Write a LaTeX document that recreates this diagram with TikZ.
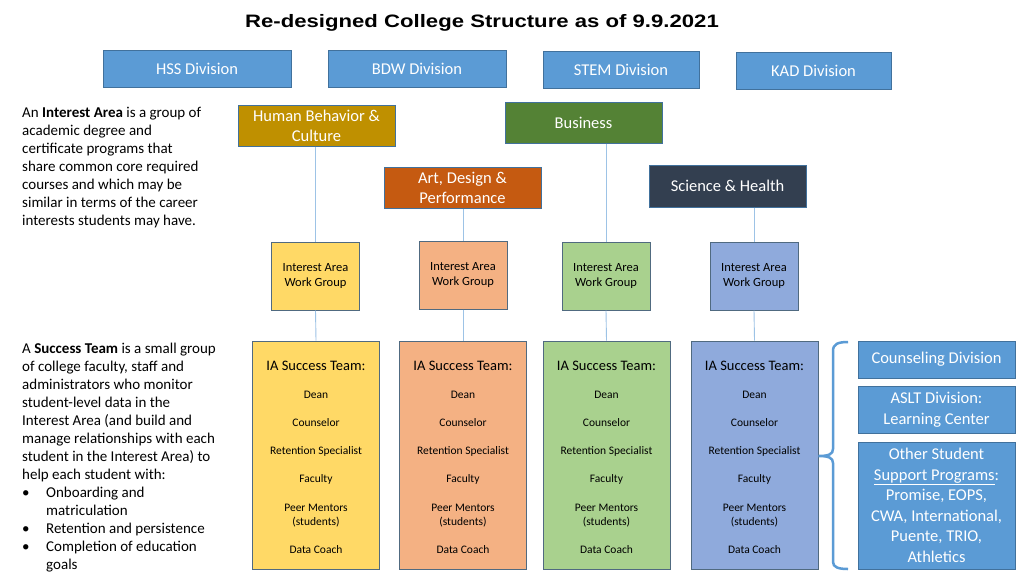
\documentclass[tikz,border=0pt]{standalone}
\usepackage{graphicx}
\usepackage{fontspec}
\setmainfont{Carlito}
\newfontfamily\titlefont{Liberation Sans}
\definecolor{divblue}{HTML}{5B9BD5}
\definecolor{bord}{HTML}{41719C}
\definecolor{wgbord}{HTML}{506A80}
\definecolor{hbcgold}{HTML}{BF9000}
\definecolor{busgreen}{HTML}{548235}
\definecolor{adporange}{HTML}{C55A11}
\definecolor{scinavy}{HTML}{333F50}
\definecolor{wgyellow}{HTML}{FFD966}
\definecolor{wgpeach}{HTML}{F4B183}
\definecolor{wggreen}{HTML}{A9D18E}
\definecolor{wgblue}{HTML}{8FAADC}
\definecolor{linkblue}{HTML}{9DC3E6}
\begin{document}
\begin{tikzpicture}[x=1pt,y=-1pt,
  divbox/.style={draw=bord, fill=divblue, line width=1pt, text=white, inner sep=0pt, align=center, font=\fontsize{16.5}{20.5}\selectfont},
  iabox/.style={draw=bord, line width=1pt, text=white, inner sep=0pt, align=center, font=\fontsize{16.5}{20}\selectfont},
  wgbox/.style={draw=wgbord, line width=1pt, inner sep=0pt, align=center, minimum width=88pt, minimum height=68pt, font=\fontsize{12.5}{15}\selectfont},
  stbox/.style={draw=wgbord, line width=1pt, inner sep=0pt, minimum width=127pt, minimum height=228pt},
  sttitle/.style={inner sep=0pt, font=\fontsize{14.5}{17}\selectfont},
  stitem/.style={inner sep=0pt, align=center, font=\fontsize{11.5}{14}\selectfont},
  lefttext/.style={inner sep=0pt, align=left, anchor=north west, font=\fontsize{15}{18}\selectfont},
  link/.style={draw=linkblue, line width=0.9pt},
  bracepath/.style={draw=divblue, line width=2.5pt}
]
\path[fill=white, use as bounding box] (0,0) rectangle (1024,576);

% title
\node[inner sep=0pt, font=\titlefont\bfseries\fontsize{18}{22}\selectfont] (title) at (482,22.5)
  {\scalebox{1.23}[1]{Re-designed College Structure as of 9.9.2021}};

% divisions
\node[divbox, minimum width=188pt, minimum height=37pt] (hss) at (197,68.5) {HSS Division};
\node[divbox, minimum width=178pt, minimum height=37pt] (bdw) at (417,68.5) {BDW Division};
\node[divbox, minimum width=156pt, minimum height=37pt] (stem) at (621,69.5) {STEM Division};
\node[divbox, minimum width=155pt, minimum height=37pt] (kad) at (813.5,70.5) {KAD Division};

% interest areas
\node[iabox, fill=hbcgold, minimum width=157pt, minimum height=41pt] (hbc) at (316.5,125.5) {Human Behavior \&\\Culture};
\node[iabox, fill=busgreen, minimum width=157pt, minimum height=41pt] (bus) at (583.5,122.5) {Business};
\node[iabox, fill=adporange, minimum width=157pt, minimum height=41pt] (adp) at (462.5,187.5) {Art, Design \&\\Performance};
\node[iabox, fill=scinavy, minimum width=157pt, minimum height=42pt] (sci) at (727.5,186) {Science \& Health};

% work groups
\node[wgbox, fill=wgyellow] (wg1) at (315.5,276) {Interest Area\\Work Group};
\node[wgbox, fill=wgpeach] (wg2) at (463,275) {Interest Area\\Work Group};
\node[wgbox, fill=wggreen] (wg3) at (606,276) {Interest Area\\Work Group};
\node[wgbox, fill=wgblue] (wg4) at (754,276) {Interest Area\\Work Group};

% success teams
\node[stbox, fill=wgyellow] (st1) at (316,455) {};
\node[stbox, fill=wgpeach] (st2) at (463,455) {};
\node[stbox, fill=wggreen] (st3) at (606.5,455) {};
\node[stbox, fill=wgblue] (st4) at (754.5,455) {};

\foreach \i/\x in {1/316,2/463,3/606.5,4/754.5}{
  \node[sttitle] (st\i t) at (\x,365.5) {IA Success Team:};
  \node[stitem] (st\i a) at (\x,394.5) {Dean};
  \node[stitem] (st\i b) at (\x,422.5) {Counselor};
  \node[stitem] (st\i c) at (\x,451) {Retention Specialist};
  \node[stitem] (st\i d) at (\x,479.5) {Faculty};
  \node[stitem] (st\i e) at (\x,515.5) {Peer Mentors\\(students)};
  \node[stitem] (st\i f) at (\x,549.5) {Data Coach};
}

% connectors
\draw[link] (wg1.north |- hbc.south) -- (wg1.north);
\draw[link] (wg2.north |- adp.south) -- (wg2.north);
\draw[link] (wg3.north |- bus.south) -- (wg3.north);
\draw[link] (wg4.north |- sci.south) -- (wg4.north);
\draw[link] (wg1.south) -- (st1.north);
\draw[link] (wg2.south) -- (st2.north);
\draw[link] (wg3.south) -- (st3.north);
\draw[link] (wg4.south) -- (st4.north);

% support boxes
\node[divbox, minimum width=157pt, minimum height=37pt] (couns) at (936.5,359.5) {\raisebox{-2pt}{Counseling Division}};
\node[divbox, minimum width=157pt, minimum height=47pt] (aslt) at (936.5,409.5) {ASLT Division:\\Learning Center};
\node[divbox, minimum width=157pt, minimum height=127pt] (other) at (936.5,505.5)
  {Other Student\\\underline{Support Programs}:\\Promise, EOPS,\\CWA, International,\\Puente, TRIO,\\Athletics};

% brace
\coordinate (btop) at (848,342);
\coordinate (bbot) at (848,569);
\coordinate (btip) at (st4.east |- 0,456);
\draw[bracepath] (btop) .. controls (838,342) and (833,344) .. (833,351) -- (833,449)
  .. controls (833,454) and (829,456) .. (btip)
  .. controls (829,456) and (833,458) .. (833,463) -- (833,562)
  .. controls (833,567) and (838,569) .. (bbot);

% left texts
\node[lefttext] (p1) at (22,107) {An \textbf{Interest Area} is a group of\\academic degree and\\certificate programs that\\share common core required\\courses and which may be\\similar in terms of the career\\interests students may have.};
\node[lefttext] (p2) at (22,342.5) {A \textbf{Success Team} is a small group\\of college faculty, staff and\\administrators who monitor\\student-level data in the\\Interest Area (and build and\\manage relationships with each\\student in the Interest Area) to\\help each student with:\\\makebox[24pt][l]{\textbullet}Onboarding and\\\hspace*{24pt}matriculation\\\makebox[24pt][l]{\textbullet}Retention and persistence\\\makebox[24pt][l]{\textbullet}Completion of education\\\hspace*{24pt}goals};
\end{tikzpicture}
\end{document}
